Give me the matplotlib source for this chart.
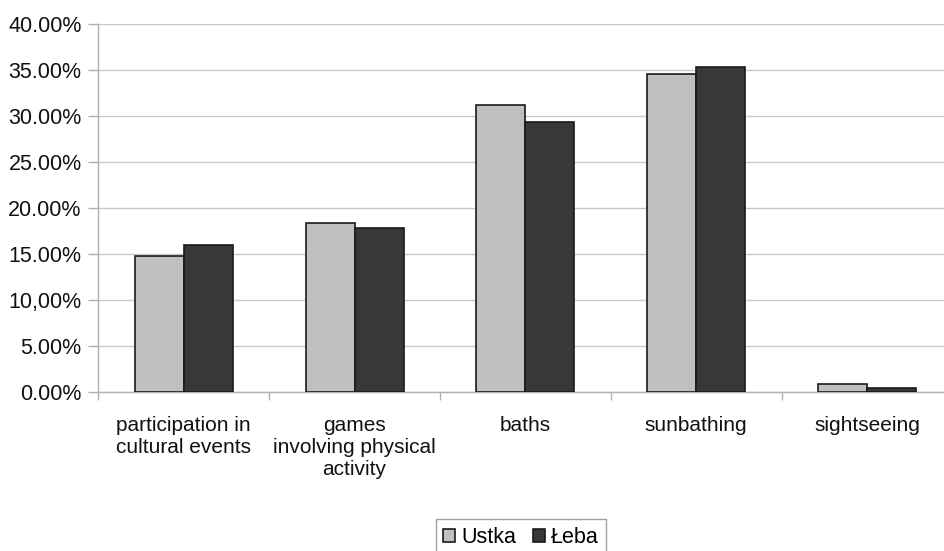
import matplotlib
matplotlib.use("Agg")
import matplotlib.pyplot as plt
import numpy as np

plt.rcParams['font.family'] = ['Liberation Sans', 'DejaVu Sans']

categories = ["participation in\ncultural events",
              "games\ninvolving physical\nactivity",
              "baths", "sunbathing", "sightseeing"]
ustka = [14.75, 18.4, 31.2, 34.6, 0.85]
leba = [16.0, 17.85, 29.4, 35.35, 0.45]
series_names = ["Ustka", "Łeba"]
ytick_values = [0, 5, 10, 15, 20, 25, 30, 35, 40]
ytick_labels = ["0.00%", "5.00%", "10,00%", "15.00%", "20.00%",
                "25.00%", "30.00%", "35.00%", "40.00%"]

fig = plt.figure(figsize=(9.44, 5.51), dpi=100)
# plot area runs slightly past the right edge of the canvas
ax = fig.add_axes([0.1042, 0.2886, 0.9047, 0.6678])

x = np.arange(len(categories))
w = 0.287
ax.bar(x - w / 2, ustka, w, color="#c0c0c0", edgecolor="#1a1a1a",
       linewidth=1.2, label=series_names[0], zorder=3)
ax.bar(x + w / 2, leba, w, color="#383838", edgecolor="#1a1a1a",
       linewidth=1.2, label=series_names[1], zorder=3)

ax.set_xlim(-0.5, len(categories) - 0.5)
ax.set_ylim(0, 40)
ax.set_yticks(ytick_values)
ax.set_yticklabels(ytick_labels, fontsize=15.5, color="#111111")
ax.yaxis.grid(True, color="#c8c8c8", linewidth=1.0, zorder=0)
ax.set_axisbelow(True)

# category labels centred under each group, ticks on group boundaries
ax.set_xticks(x)
ax.set_xticklabels(categories, fontsize=15, color="#111111", linespacing=1.2)
ax.tick_params(axis='x', length=0, pad=17)
ax.set_xticks(np.arange(len(categories) + 1) - 0.5, minor=True)
ax.tick_params(axis='x', which='minor', length=6, color="#b0b0b0", width=1)
ax.tick_params(axis='y', length=7, color="#b0b0b0", width=1, pad=5)

for s in ["top", "right"]:
    ax.spines[s].set_visible(False)
for s in ["left", "bottom"]:
    ax.spines[s].set_color("#b0b0b0")
    ax.spines[s].set_linewidth(1.0)

leg = fig.legend(loc="center", bbox_to_anchor=(0.552, 0.025), ncol=2,
                 fontsize=15.5, frameon=True, fancybox=False,
                 edgecolor="#888888", handlelength=0.55, handleheight=0.55,
                 handletextpad=0.3, columnspacing=0.75, borderpad=0.35,
                 borderaxespad=0)
leg.get_frame().set_linewidth(1.0)

fig.savefig("out.png", dpi=100)
